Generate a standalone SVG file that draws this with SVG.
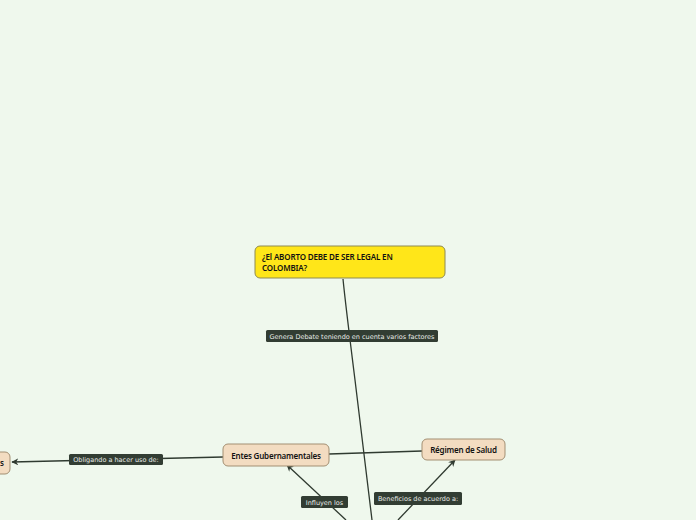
<svg xmlns="http://www.w3.org/2000/svg" width="696" height="520" viewBox="0 0 696 520">
<defs>
<style>
.node{fill:#f3dcc1;stroke:#a38f72;stroke-width:1}
.root{fill:#ffe619;stroke:#8e8a52;stroke-width:1}
.nt{font-family:"Noto Sans","DejaVu Sans",sans-serif;font-size:8px;fill:#111;font-weight:600}
.lb{fill:#323d33}
.lt{font-family:"DejaVu Sans","Noto Sans",sans-serif;font-size:6.5px;fill:#e8ece8}
.c{fill:none;stroke:#2f3a30;stroke-width:1.3}
</style>
<marker id="ah" viewBox="0 0 10 10" refX="9" refY="5" markerWidth="7" markerHeight="7" orient="auto" markerUnits="userSpaceOnUse">
<path d="M0,0 L10,5 L0,10 L3,5 Z" fill="#2f3a30"/>
</marker>
</defs>
<rect width="696" height="520" fill="#eff8ed"/>
<g id="connectors">
<path class="c" d="M343,279 Q345,300 355,380 T372,520"/>
<path class="c" d="M223,457 L12,462" marker-end="url(#ah)"/>
<path class="c" d="M329,454 L422,451"/>
<path class="c" d="M346,520 L287,465" marker-end="url(#ah)"/>
<path class="c" d="M398,520 L455,460" marker-end="url(#ah)"/>
</g>
<g id="label-genera">
<rect class="lb" x="266" y="330" width="172" height="12" rx="1.5"/>
<text class="lt" x="352" y="338.5" text-anchor="middle">Genera Debate teniendo en cuenta varios factores</text>
</g>
<g id="label-obligando">
<rect class="lb" x="69" y="454" width="94" height="11" rx="1.5"/>
<text class="lt" x="116" y="462" text-anchor="middle">Obligando a hacer uso de:</text>
</g>
<g id="label-influyen">
<rect class="lb" x="301" y="496" width="47" height="12" rx="1.5"/>
<text class="lt" x="324.5" y="504.5" text-anchor="middle">Influyen los</text>
</g>
<g id="label-beneficios">
<rect class="lb" x="374" y="492" width="88" height="13" rx="1.5"/>
<text class="lt" x="418" y="501" text-anchor="middle">Beneficios de acuerdo a:</text>
</g>
<g id="root">
<rect class="root" x="255" y="246" width="190" height="32" rx="5"/>
<text class="nt" x="262" y="260" font-size="7.6" letter-spacing="-0.15">¿El ABORTO DEBE DE SER LEGAL EN</text>
<text class="nt" x="262" y="271" font-size="7.6" letter-spacing="-0.15">COLOMBIA?</text>
</g>
<g id="entes">
<rect class="node" x="223" y="444" width="106" height="22" rx="5"/>
<text class="nt" x="276" y="458.5" text-anchor="middle" letter-spacing="-0.2">Entes Gubernamentales</text>
</g>
<g id="regimen">
<rect class="node" x="422" y="439" width="83" height="21" rx="5"/>
<text class="nt" x="463.5" y="453" text-anchor="middle" letter-spacing="-0.2">Régimen de Salud</text>
</g>
<g id="left-node">
<rect class="node" x="-60" y="452" width="70" height="22" rx="5"/>
<text class="nt" x="4" y="466" text-anchor="end">s</text>
</g>
</svg>
